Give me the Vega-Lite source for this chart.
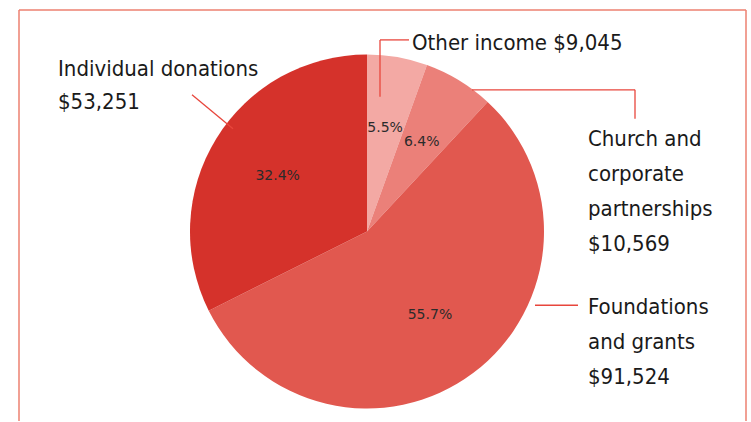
{
  "$schema": "https://vega.github.io/schema/vega-lite/v6.json",
  "width": 751,
  "height": 422,
  "autosize": {"type": "fit", "contains": "padding"},
  "padding": 0,
  "background": "white",
  "config": {"view": {"stroke": null}},
  "data": {"values": [
    {"source": "Other income", "amount": 9045, "pct": "5.5%", "rank": 1, "label": ["Other income $9,045"]},
    {"source": "Church and corporate partnerships", "amount": 10569, "pct": "6.4%", "rank": 2, "label": ["Church and", "corporate", "partnerships", "$10,569"]},
    {"source": "Foundations and grants", "amount": 91524, "pct": "55.7%", "rank": 3, "label": ["Foundations", "and grants", "$91,524"]},
    {"source": "Individual donations", "amount": 53251, "pct": "32.4%", "rank": 4, "label": ["Individual donations", "$53,251"]}
  ]},
  "layer": [
    {
      "data": {"values": [{}]},
      "mark": {"type": "rule", "stroke": "#ec8070", "strokeWidth": 1.5},
      "encoding": {
        "x": {"datum": 19, "type": "quantitative", "scale": {"domain": [0, 751]}, "axis": null},
        "x2": {"datum": 746},
        "y": {"datum": 10, "type": "quantitative", "scale": {"domain": [0, 422], "reverse": true}, "axis": null},
        "y2": {"datum": 10}
      }
    },
    {
      "data": {"values": [{}]},
      "mark": {"type": "rule", "stroke": "#ec8070", "strokeWidth": 1.5},
      "encoding": {
        "x": {"datum": 19, "type": "quantitative", "scale": {"domain": [0, 751]}, "axis": null},
        "x2": {"datum": 19},
        "y": {"datum": 10, "type": "quantitative", "scale": {"domain": [0, 422], "reverse": true}, "axis": null},
        "y2": {"datum": 422}
      }
    },
    {
      "data": {"values": [{}]},
      "mark": {"type": "rule", "stroke": "#ec8070", "strokeWidth": 1.5},
      "encoding": {
        "x": {"datum": 746, "type": "quantitative", "scale": {"domain": [0, 751]}, "axis": null},
        "x2": {"datum": 746},
        "y": {"datum": 10, "type": "quantitative", "scale": {"domain": [0, 422], "reverse": true}, "axis": null},
        "y2": {"datum": 422}
      }
    },
    {
      "mark": {"type": "arc", "outerRadius": 177},
      "encoding": {
        "theta": {"field": "amount", "type": "quantitative", "stack": true},
        "order": {"field": "rank", "type": "quantitative", "sort": "ascending"},
        "color": {
          "field": "source", "type": "nominal", "legend": null,
          "scale": {
            "domain": ["Other income", "Church and corporate partnerships", "Foundations and grants", "Individual donations"],
            "range": ["#f3a9a4", "#eb8079", "#e1584f", "#d5322b"]
          }
        },
        "x": {"datum": 367, "type": "quantitative", "scale": {"domain": [0, 751]}, "axis": null},
        "y": {"datum": 232, "type": "quantitative", "scale": {"domain": [0, 422], "reverse": true}, "axis": null}
      }
    },
    {
      "mark": {"type": "text", "radius": 105, "font": "DejaVu Sans", "fontSize": 14, "fill": "#2b2b2b"},
      "encoding": {
        "theta": {"field": "amount", "type": "quantitative", "stack": true},
        "order": {"field": "rank", "type": "quantitative", "sort": "ascending"},
        "text": {"field": "pct"},
        "x": {"datum": 367, "type": "quantitative", "scale": {"domain": [0, 751]}, "axis": null},
        "y": {"datum": 232, "type": "quantitative", "scale": {"domain": [0, 422], "reverse": true}, "axis": null}
      }
    },
    {
      "data": {"values": [{}]},
      "mark": {"type": "rule", "stroke": "#e8463c", "strokeWidth": 1.3},
      "encoding": {
        "x": {"datum": 380, "type": "quantitative", "scale": {"domain": [0, 751]}, "axis": null},
        "x2": {"datum": 380},
        "y": {"datum": 97, "type": "quantitative", "scale": {"domain": [0, 422], "reverse": true}, "axis": null},
        "y2": {"datum": 40}
      }
    },
    {
      "data": {"values": [{}]},
      "mark": {"type": "rule", "stroke": "#e8463c", "strokeWidth": 1.3},
      "encoding": {
        "x": {"datum": 380, "type": "quantitative", "scale": {"domain": [0, 751]}, "axis": null},
        "x2": {"datum": 409},
        "y": {"datum": 40, "type": "quantitative", "scale": {"domain": [0, 422], "reverse": true}, "axis": null},
        "y2": {"datum": 40}
      }
    },
    {
      "data": {"values": [{}]},
      "mark": {"type": "rule", "stroke": "#e8463c", "strokeWidth": 1.3},
      "encoding": {
        "x": {"datum": 472, "type": "quantitative", "scale": {"domain": [0, 751]}, "axis": null},
        "x2": {"datum": 635},
        "y": {"datum": 90, "type": "quantitative", "scale": {"domain": [0, 422], "reverse": true}, "axis": null},
        "y2": {"datum": 90}
      }
    },
    {
      "data": {"values": [{}]},
      "mark": {"type": "rule", "stroke": "#e8463c", "strokeWidth": 1.3},
      "encoding": {
        "x": {"datum": 635, "type": "quantitative", "scale": {"domain": [0, 751]}, "axis": null},
        "x2": {"datum": 635},
        "y": {"datum": 90, "type": "quantitative", "scale": {"domain": [0, 422], "reverse": true}, "axis": null},
        "y2": {"datum": 119}
      }
    },
    {
      "data": {"values": [{}]},
      "mark": {"type": "rule", "stroke": "#e8463c", "strokeWidth": 1.3},
      "encoding": {
        "x": {"datum": 535, "type": "quantitative", "scale": {"domain": [0, 751]}, "axis": null},
        "x2": {"datum": 578},
        "y": {"datum": 306, "type": "quantitative", "scale": {"domain": [0, 422], "reverse": true}, "axis": null},
        "y2": {"datum": 306}
      }
    },
    {
      "data": {"values": [{}]},
      "mark": {"type": "rule", "stroke": "#e8463c", "strokeWidth": 1.3},
      "encoding": {
        "x": {"datum": 192, "type": "quantitative", "scale": {"domain": [0, 751]}, "axis": null},
        "x2": {"datum": 233},
        "y": {"datum": 95, "type": "quantitative", "scale": {"domain": [0, 422], "reverse": true}, "axis": null},
        "y2": {"datum": 129}
      }
    },
    {
      "transform": [{"filter": "datum.source === 'Individual donations'"}],
      "mark": {"type": "text", "align": "left", "baseline": "alphabetic", "font": "DejaVu Sans Condensed", "fontSize": 22, "lineHeight": 33, "fill": "#1a1a1a"},
      "encoding": {
        "text": {"field": "label"},
        "x": {"datum": 58, "type": "quantitative", "scale": {"domain": [0, 751]}, "axis": null},
        "y": {"datum": 76, "type": "quantitative", "scale": {"domain": [0, 422], "reverse": true}, "axis": null}
      }
    },
    {
      "transform": [{"filter": "datum.source === 'Other income'"}],
      "mark": {"type": "text", "align": "left", "baseline": "alphabetic", "font": "DejaVu Sans Condensed", "fontSize": 22, "lineHeight": 33, "fill": "#1a1a1a"},
      "encoding": {
        "text": {"field": "label"},
        "x": {"datum": 412, "type": "quantitative", "scale": {"domain": [0, 751]}, "axis": null},
        "y": {"datum": 50, "type": "quantitative", "scale": {"domain": [0, 422], "reverse": true}, "axis": null}
      }
    },
    {
      "transform": [{"filter": "datum.source === 'Church and corporate partnerships'"}],
      "mark": {"type": "text", "align": "left", "baseline": "alphabetic", "font": "DejaVu Sans Condensed", "fontSize": 22, "lineHeight": 35, "fill": "#1a1a1a"},
      "encoding": {
        "text": {"field": "label"},
        "x": {"datum": 588, "type": "quantitative", "scale": {"domain": [0, 751]}, "axis": null},
        "y": {"datum": 146, "type": "quantitative", "scale": {"domain": [0, 422], "reverse": true}, "axis": null}
      }
    },
    {
      "transform": [{"filter": "datum.source === 'Foundations and grants'"}],
      "mark": {"type": "text", "align": "left", "baseline": "alphabetic", "font": "DejaVu Sans Condensed", "fontSize": 22, "lineHeight": 35, "fill": "#1a1a1a"},
      "encoding": {
        "text": {"field": "label"},
        "x": {"datum": 588, "type": "quantitative", "scale": {"domain": [0, 751]}, "axis": null},
        "y": {"datum": 315, "type": "quantitative", "scale": {"domain": [0, 422], "reverse": true}, "axis": null}
      }
    }
  ]
}
